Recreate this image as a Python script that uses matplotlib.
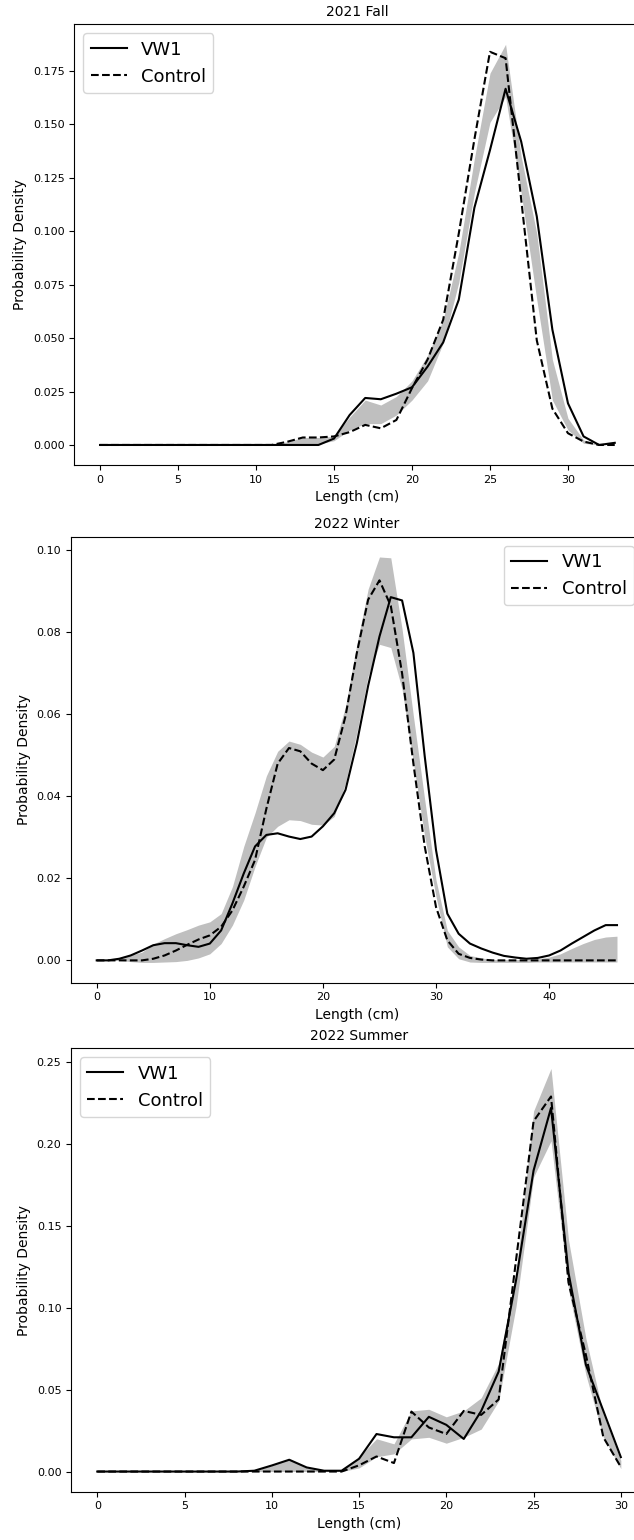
import numpy as np
import matplotlib
matplotlib.use("Agg")
import matplotlib.pyplot as plt

# ---------------- data ----------------
titles = ["2021 Fall", "2022 Winter", "2022 Summer"]
series_labels = ["VW1", "Control"]

# 2021 Fall (x = 0..33)
fall_x = list(range(0, 34))
fall_vw1 = [0, 0, 0, 0, 0, 0, 0, 0, 0, 0, 0, 0, 0, 0, 0,
            0.003, 0.014, 0.022, 0.0214, 0.024, 0.027, 0.0367, 0.048, 0.068,
            0.111, 0.138, 0.1667, 0.142, 0.107, 0.054, 0.0195, 0.004, 0.0, 0.001]
fall_ctrl = [0, 0, 0, 0, 0, 0, 0, 0, 0, 0, 0, 0, 0.0015, 0.0035, 0.0035,
             0.004, 0.006, 0.0094, 0.0078, 0.0117, 0.0266, 0.040, 0.0586, 0.099,
             0.143, 0.184, 0.181, 0.115, 0.049, 0.017, 0.0055, 0.0016, 0.0, 0.0]
fall_upper = [0, 0, 0, 0, 0, 0, 0, 0, 0, 0, 0, 0, 0.0015, 0.0035, 0.0035,
              0.004, 0.013, 0.021, 0.0187, 0.0227, 0.030, 0.042, 0.0586, 0.090,
              0.134, 0.174, 0.1875, 0.135, 0.099, 0.040, 0.0125, 0.0023, 0.0, 0.0]
fall_lower = [0, 0, 0, 0, 0, 0, 0, 0, 0, 0, 0, 0, 0, 0, 0.0005,
              0.002, 0.007, 0.010, 0.010, 0.014, 0.021, 0.030, 0.0477, 0.076,
              0.118, 0.151, 0.163, 0.118, 0.068, 0.021, 0.007, 0.0008, 0.0, 0.0]

# 2022 Winter (x = 0..46)
winter_x = list(range(0, 47))
winter_vw1 = [0, 0, 0.0004, 0.0012, 0.0024, 0.0037, 0.0042, 0.0042, 0.0037, 0.0033,
              0.0041, 0.0073, 0.0139, 0.0212, 0.0278, 0.0306, 0.031, 0.0302, 0.0296, 0.0302,
              0.0327, 0.0359, 0.0416, 0.053, 0.067, 0.079, 0.0886, 0.0878, 0.075, 0.0498,
              0.0269, 0.0114, 0.0065, 0.0041, 0.0029, 0.0019, 0.0011, 0.0007, 0.0004, 0.0006,
              0.0012, 0.0024, 0.0041, 0.0057, 0.0073, 0.0086, 0.0086]
winter_ctrl = [0, 0, 0, 0, 0, 0.0004, 0.0012, 0.0024, 0.0038, 0.0051,
               0.0061, 0.0082, 0.0122, 0.018, 0.0245, 0.037, 0.048, 0.0518, 0.051, 0.048,
               0.0464, 0.049, 0.0596, 0.075, 0.088, 0.0927, 0.0865, 0.070, 0.048, 0.0278,
               0.013, 0.0049, 0.0016, 0.0006, 0.0002, 0, 0, 0, 0, 0,
               0, 0, 0, 0, 0, 0, 0]
winter_upper = [0, 0, 0.0005, 0.0013, 0.002, 0.004, 0.0053, 0.0065, 0.0075, 0.0086,
                0.0094, 0.0114, 0.018, 0.0278, 0.036, 0.045, 0.051, 0.0535, 0.0527, 0.0508,
                0.0496, 0.0522, 0.062, 0.0771, 0.0906, 0.0984, 0.0982, 0.0808, 0.0596, 0.0392,
                0.0196, 0.0073, 0.0033, 0.0012, 0.0006, 0.0002, 0.0002, 0.0002, 0.0002, 0.0004,
                0.0008, 0.0016, 0.0029, 0.0041, 0.0051, 0.0057, 0.0059]
winter_lower = [0, 0, 0, -0.0003, -0.0005, -0.0005, -0.0004, -0.0003, 0, 0.0006,
                0.0016, 0.0041, 0.0086, 0.0147, 0.0229, 0.030, 0.0327, 0.0343, 0.0341, 0.0332,
                0.033, 0.0351, 0.0433, 0.0555, 0.0694, 0.0771, 0.0763, 0.0661, 0.0482, 0.0302,
                0.0155, 0.0033, 0.0004, -0.0004, -0.0005, -0.0005, -0.0005, -0.0005, -0.0005, -0.0004,
                -0.0004, -0.0004, -0.0004, -0.0004, -0.0004, -0.0004, -0.0004]

# 2022 Summer (x = 0..30)
summer_x = list(range(0, 31))
summer_vw1 = [0, 0, 0, 0, 0, 0, 0, 0, 0, 0.0005, 0.0037, 0.0072, 0.0025, 0.0005, 0.0005,
              0.0078, 0.0229, 0.0209, 0.0209, 0.0334, 0.0285, 0.0199, 0.037, 0.061,
              0.117, 0.1837, 0.2219, 0.1214, 0.0651, 0.037, 0.0088]
summer_ctrl = [0, 0, 0, 0, 0, 0, 0, 0, 0, 0, 0, 0, 0, 0, 0,
               0.0038, 0.0092, 0.0052, 0.0366, 0.0269, 0.0229, 0.037, 0.0346, 0.044,
               0.1294, 0.2138, 0.2289, 0.1154, 0.0711, 0.0209, 0.0028]
summer_upper = [0, 0, 0, 0, 0, 0, 0, 0, 0, 0.0005, 0.0037, 0.0075, 0.0022, 0.0005, 0.001,
                0.0088, 0.020, 0.0169, 0.037, 0.038, 0.0334, 0.037, 0.045, 0.066,
                0.121, 0.220, 0.246, 0.1415, 0.0812, 0.035, 0.0068]
summer_lower = [0, 0, 0, 0, 0, 0, 0, 0, 0, 0, 0, 0, 0, 0, 0,
                0.0022, 0.009, 0.0108, 0.0199, 0.0209, 0.0173, 0.0209, 0.0259, 0.043,
                0.101, 0.1797, 0.2018, 0.1113, 0.059, 0.0209, 0.0018]

panels = [
    (fall_x, fall_vw1, fall_ctrl, fall_lower, fall_upper),
    (winter_x, winter_vw1, winter_ctrl, winter_lower, winter_upper),
    (summer_x, summer_vw1, summer_ctrl, summer_lower, summer_upper),
]
legend_locs = ["upper left", "upper right", "upper left"]

# ---------------- layout ----------------
W, H = 634, 1540
fig = plt.figure(figsize=(W / 100, H / 100), dpi=100)

def box(l, r, t, b):
    return [l / W, 1 - b / H, (r - l) / W, (b - t) / H]

positions = [box(74.3, 640.5, 24.3, 465.0),
             box(70.7, 643.0, 536.7, 982.7),
             box(71.1, 647.0, 1048.3, 1491.7)]
xticks = [[0, 5, 10, 15, 20, 25, 30], [0, 10, 20, 30, 40], [0, 5, 10, 15, 20, 25, 30]]

for i, (x, vw1, ctrl, lo, up) in enumerate(panels):
    ax = fig.add_axes(positions[i])
    ax.fill_between(x, lo, up, color="gray", alpha=0.5, linewidth=0, zorder=1)
    ax.plot(x, vw1, color="black", linestyle="-", linewidth=1.5, label=series_labels[0], zorder=3)
    ax.plot(x, ctrl, color="black", linestyle="--", linewidth=1.5, label=series_labels[1], zorder=3)
    ax.set_xticks(xticks[i])
    ax.tick_params(labelsize=8)
    ax.set_xlabel("Length (cm)", fontsize=10)
    ax.set_ylabel("Probability Density", fontsize=10)
    ax.set_title(titles[i], fontsize=10)
    ax.legend(loc=legend_locs[i], fontsize=13)

fig.savefig("out.png", dpi=100)
